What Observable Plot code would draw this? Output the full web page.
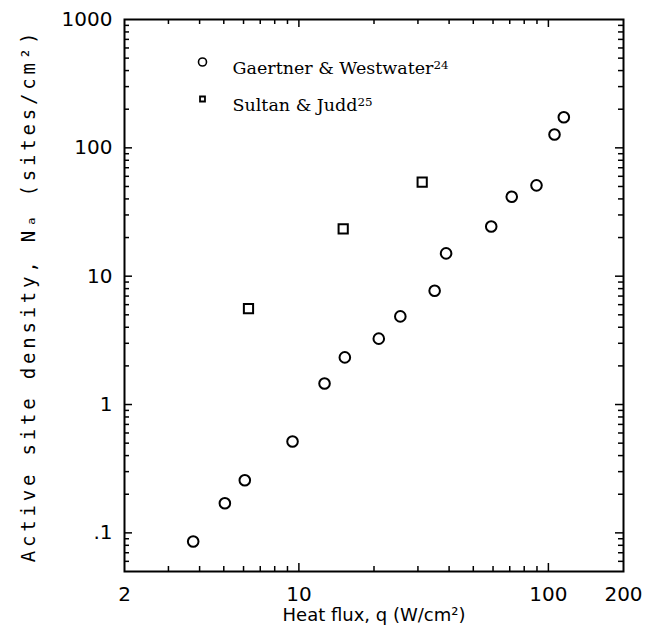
<!DOCTYPE html>
<html><head><meta charset="utf-8">
<script src="https://cdn.jsdelivr.net/npm/d3@7"></script>
<script src="https://cdn.jsdelivr.net/npm/@observablehq/plot@0.6"></script>
<style>body{margin:0;background:#fff}</style>
</head><body><div id="chart"></div>
<script>
// Gaertner & Westwater (circles)
const gwHeatFlux = [3.77, 5.05, 6.07, 9.43, 12.67, 15.28, 20.9, 25.5, 35.0, 38.9, 59.0, 71.3, 89.6, 105.8, 115.3];
const gwSiteDensity = [0.0857, 0.17, 0.257, 0.515, 1.46, 2.33, 3.26, 4.86, 7.71, 15.06, 24.4, 41.6, 51.0, 127, 172.9];
// Sultan & Judd (squares)
const sjHeatFlux = [6.28, 15.05, 31.2];
const sjSiteDensity = [5.58, 23.4, 54.1];

const xTickValues = [2, 10, 100, 200];
const xTickLabels = ["2", "10", "100", "200"];
const yTickValues = [0.05, 0.1, 1, 10, 100, 1000];
const yTickLabels = [".05", ".1", "1", "10", "100", "1000"];
const xMajorTicks = [10, 100];
const xMinorTicks = [3, 4, 5, 6, 7, 8, 9, 20, 30, 40, 50, 60, 70, 80, 90];
const yMajorTicks = [0.1, 1, 10, 100];
const yMinorTicks = [0.06, 0.07, 0.08, 0.09, 0.2, 0.3, 0.4, 0.5, 0.6, 0.7, 0.8, 0.9,
  2, 3, 4, 5, 6, 7, 8, 9, 20, 30, 40, 50, 60, 70, 80, 90, 200, 300, 400, 500, 600, 700, 800, 900];
const legendNames = ["Gaertner & Westwater", "Sultan & Judd"];
const legendRefs = ["24", "25"];
const xLabel = "Heat flux, q (W/cm²)";
const yLabel = "Active site density, Nₐ (sites/cm²)";

const W = 650, H = 636, mL = 124, mR = 27, mT = 19, mB = 65;
const iw = W - mL - mR, ih = H - mT - mB;

const gw = gwHeatFlux.map((x, i) => ({x, y: gwSiteDensity[i]}));
const sj = sjHeatFlux.map((x, i) => ({x, y: sjSiteDensity[i]}));

const tickStyle = {stroke: "black", strokeWidth: 1.5};
const majorLen = 8, minorLen = 5;
const legendFont = {frameAnchor: "top-left", dx: 108, textAnchor: "start", fontFamily: "DejaVu Serif", fontSize: 17.5};

const plot = Plot.plot({
  width: W, height: H,
  marginLeft: mL, marginRight: mR, marginTop: mT, marginBottom: mB,
  x: {type: "log", domain: [2, 200]},
  y: {type: "log", domain: [0.05, 1000]},
  style: {background: "white", color: "black"},
  marks: [
    Plot.ruleX(xMajorTicks, {x: d => d, insetTop: ih - majorLen, ...tickStyle}),
    Plot.ruleX(xMinorTicks, {x: d => d, insetTop: ih - minorLen, ...tickStyle}),
    Plot.ruleX(xMajorTicks, {x: d => d, insetBottom: ih - majorLen, ...tickStyle}),
    Plot.ruleX(xMinorTicks, {x: d => d, insetBottom: ih - minorLen, ...tickStyle}),
    Plot.ruleY(yMajorTicks, {y: d => d, insetRight: iw - majorLen, ...tickStyle}),
    Plot.ruleY(yMinorTicks, {y: d => d, insetRight: iw - minorLen, ...tickStyle}),
    Plot.ruleY(yMajorTicks, {y: d => d, insetLeft: iw - majorLen, ...tickStyle}),
    Plot.ruleY(yMinorTicks, {y: d => d, insetLeft: iw - minorLen, ...tickStyle}),
    Plot.frame({stroke: "black", strokeWidth: 2}),
    Plot.axisX(xTickValues, {tickSize: 0, tickPadding: 15, label: null, fontSize: 20, fontFamily: "DejaVu Sans",
      tickFormat: d => xTickLabels[xTickValues.indexOf(d)]}),
    Plot.axisY(yTickValues, {tickSize: 0, tickPadding: 12, label: null, fontSize: 20, fontFamily: "DejaVu Sans",
      tickFormat: d => yTickLabels[yTickValues.indexOf(d)]}),
    Plot.dot(gw, {x: "x", y: "y", r: 5.3, symbol: "circle", stroke: "black", strokeWidth: 2, fill: "none"}),
    Plot.dot(sj, {x: "x", y: "y", r: 5.2, symbol: "square", stroke: "black", strokeWidth: 2, fill: "none"}),
    // legend
    Plot.dot([legendNames[0]], {frameAnchor: "top-left", dx: 78, dy: 42.5, r: 4, symbol: "circle", stroke: "black", strokeWidth: 1.6, fill: "none"}),
    Plot.dot([legendNames[1]], {frameAnchor: "top-left", dx: 78, dy: 79.5, r: 2.8, symbol: "square", stroke: "black", strokeWidth: 1.8, fill: "none"}),
    Plot.text([legendNames[0]], {text: d => d, dy: 42.5, ...legendFont}),
    Plot.text([legendNames[1]], {text: d => d, dy: 79.5, ...legendFont}),
    // axis titles
    Plot.text([xLabel], {text: d => d, frameAnchor: "bottom", dy: 44, lineAnchor: "middle", textAnchor: "middle", fontFamily: "DejaVu Sans", fontSize: 18}),
    Plot.text([yLabel], {text: d => d, frameAnchor: "left", dx: -96, rotate: -90, textAnchor: "middle", lineAnchor: "middle", fontFamily: "DejaVu Sans Mono", fontSize: 19})
  ]
});
const svg = d3.select(plot);
const texts = svg.selectAll("text");
texts.filter(function () { return this.textContent === yLabel; }).style("letter-spacing", "3.8px");
legendNames.forEach((name, i) => {
  texts.filter(function () { return this.textContent === name; })
    .append("tspan").attr("dy", "-0.45em").attr("font-size", "0.68em").text(legendRefs[i]);
});
document.getElementById("chart").appendChild(plot);
</script>
</body></html>
